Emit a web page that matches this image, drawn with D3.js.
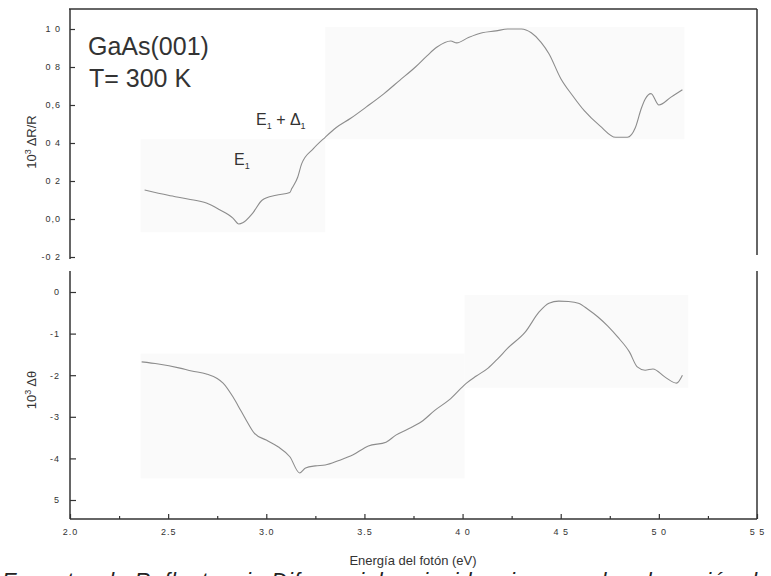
<!DOCTYPE html>
<html>
<head>
<meta charset="utf-8">
<script src="https://cdn.jsdelivr.net/npm/d3@7"></script>
<style>
  body { margin: 0; background: #fff; overflow: hidden; }
  svg { display: block; font-family: "Liberation Sans", Arial, sans-serif; }
  .tk text { font-size: 9px; fill: #333; letter-spacing: 1px; }
  .tk line { stroke: #333; stroke-width: 1.2; }
</style>
</head>
<body>
<svg id="chart" width="771" height="576"></svg>
<script>
// energia del foton (eV) y 10^3 dR/R
var eR = [2.38, 2.50, 2.60, 2.695, 2.76, 2.83, 2.86, 2.88, 2.93, 2.98, 3.05, 3.12, 3.13, 3.16, 3.18, 3.24, 3.30, 3.355, 3.43, 3.51,
          3.60, 3.68, 3.76, 3.82, 3.87, 3.94, 3.97, 4.03, 4.10, 4.17, 4.23, 4.30, 4.35, 4.40, 4.44, 4.50, 4.56, 4.62, 4.70, 4.78,
          4.84, 4.88, 4.91, 4.93, 4.96, 5.00, 5.06, 5.12];
var vR = [0.153, 0.125, 0.105, 0.084, 0.05, 0.005, -0.026, -0.02, 0.03, 0.10, 0.125, 0.14, 0.16, 0.22, 0.29, 0.37, 0.43, 0.48, 0.53, 0.59,
          0.66, 0.73, 0.80, 0.86, 0.905, 0.937, 0.927, 0.955, 0.98, 0.99, 1.0, 1.0, 0.98, 0.93, 0.87, 0.74, 0.65, 0.57, 0.49, 0.43,
          0.43, 0.48, 0.58, 0.63, 0.66, 0.60, 0.64, 0.68];

// 10^3 d(theta)
var eT = [2.365, 2.45, 2.56, 2.62, 2.695, 2.75, 2.78, 2.83, 2.87, 2.90, 2.94, 3.00, 3.06, 3.12, 3.17, 3.20, 3.25, 3.30, 3.37, 3.44,
          3.52, 3.61, 3.66, 3.72, 3.79, 3.86, 3.93, 4.02, 4.07, 4.13, 4.18, 4.23, 4.32, 4.39, 4.44, 4.49, 4.54, 4.59, 4.64, 4.69,
          4.74, 4.79, 4.85, 4.89, 4.93, 4.97, 5.03, 5.09, 5.12];
var vT = [-1.68, -1.73, -1.83, -1.90, -1.97, -2.08, -2.19, -2.52, -2.85, -3.10, -3.40, -3.56, -3.72, -3.96, -4.35, -4.23, -4.18, -4.16, -4.05, -3.92,
          -3.70, -3.61, -3.44, -3.30, -3.12, -2.84, -2.60, -2.19, -2.02, -1.83, -1.6, -1.35, -0.96, -0.48, -0.27, -0.22, -0.23, -0.27, -0.42, -0.60,
          -0.82, -1.08, -1.44, -1.80, -1.88, -1.85, -2.04, -2.19, -2.0];

var xTicks = [2.0, 2.5, 3.0, 3.5, 4.0, 4.5, 5.0, 5.5];
var xTickLabels = ["2.0", "2.5", "3.0", "3.5", "4 0", "4 5", "5 0", "5 5"];
var rTicks = [-0.2, 0.0, 0.2, 0.4, 0.6, 0.8, 1.0];
var rTickLabels = ["-0 2", "0,0", "0 2", "0 4", "0,6", "0 8", "1 0"];
var tTicks = [-5, -4, -3, -2, -1, 0];
var tTickLabels = ["5", "-4", "-3", "-2", "-1", "0"];

var svg = d3.select("#chart");

var x = d3.scaleLinear().domain([2.0, 5.5]).range([70, 757]);
var yR = d3.scaleLinear().domain([-0.2, 1.0]).range([257, 29]);
var yT = d3.scaleLinear().domain([-5, 0]).range([500, 292]);

// manchas grises del escaneo
var bg = svg.append("g").attr("fill", "#fafafa");
bg.append("rect").attr("x", x(2.36)).attr("y", yR(0.42)).attr("width", x(3.3) - x(2.36)).attr("height", yR(-0.07) - yR(0.42));
bg.append("rect").attr("x", x(3.3)).attr("y", yR(1.01)).attr("width", x(5.13) - x(3.3)).attr("height", yR(0.42) - yR(1.01));
bg.append("rect").attr("x", x(2.36)).attr("y", yT(-1.48)).attr("width", x(4.01) - x(2.36)).attr("height", yT(-4.48) - yT(-1.48));
bg.append("rect").attr("x", x(4.01)).attr("y", yT(-0.07)).attr("width", x(5.15) - x(4.01)).attr("height", yT(-2.3) - yT(-0.07));

// marco
var frame = svg.append("g").attr("stroke", "#333").attr("stroke-width", 1.5);
frame.append("line").attr("x1", 69).attr("x2", 757).attr("y1", 9).attr("y2", 9);
frame.append("line").attr("x1", 70).attr("x2", 70).attr("y1", 9).attr("y2", 259);
frame.append("line").attr("x1", 70).attr("x2", 70).attr("y1", 271).attr("y2", 519);
frame.append("line").attr("x1", 757).attr("x2", 757).attr("y1", 9).attr("y2", 255);
frame.append("line").attr("x1", 757).attr("x2", 757).attr("y1", 271).attr("y2", 519);
frame.append("line").attr("x1", 70).attr("x2", 757).attr("y1", 519).attr("y2", 519);

// ejes
var axR = svg.append("g").attr("class", "tk").attr("transform", "translate(70,0)")
  .call(d3.axisLeft(yR).tickValues(rTicks).tickSizeInner(-5).tickSizeOuter(0).tickPadding(9)
    .tickFormat(function (d, i) { return rTickLabels[i]; }));
axR.select(".domain").remove();

var axT = svg.append("g").attr("class", "tk").attr("transform", "translate(70,0)")
  .call(d3.axisLeft(yT).tickValues(tTicks).tickSizeInner(-6).tickSizeOuter(0).tickPadding(10)
    .tickFormat(function (d, i) { return tTickLabels[i]; }));
axT.select(".domain").remove();

var axX = svg.append("g").attr("class", "tk").attr("transform", "translate(0,519)")
  .call(d3.axisBottom(x).tickValues(xTicks).tickSizeInner(-5).tickSizeOuter(0).tickPadding(10)
    .tickFormat(function (d, i) { return xTickLabels[i]; }));
axX.select(".domain").remove();

var axMinor = svg.append("g").attr("class", "tk").attr("transform", "translate(0,519)")
  .call(d3.axisBottom(x).tickValues(xTicks.slice(0, -1).map(function (d) { return d + 0.25; }))
    .tickSizeInner(-3).tickSizeOuter(0).tickFormat(""));
axMinor.select(".domain").remove();

// curvas
var lineR = d3.line().x(function (d, i) { return x(eR[i]); }).y(function (d) { return yR(d); }).curve(d3.curveMonotoneX);
var lineT = d3.line().x(function (d, i) { return x(eT[i]); }).y(function (d) { return yT(d); }).curve(d3.curveMonotoneX);

svg.append("path").datum(vR).attr("d", lineR)
  .attr("fill", "none").attr("stroke", "#8c8c8c").attr("stroke-width", 1.1);
svg.append("path").datum(vT).attr("d", lineT)
  .attr("fill", "none").attr("stroke", "#8c8c8c").attr("stroke-width", 1.1);

// titulos de ejes
svg.append("text").attr("transform", "translate(36,142) rotate(-90)")
  .attr("text-anchor", "middle").attr("font-size", 13).attr("fill", "#333")
  .html('10<tspan font-size="9" dy="-5">3</tspan><tspan dy="5"> ΔR/R</tspan>');
svg.append("text").attr("transform", "translate(36,390) rotate(-90)")
  .attr("text-anchor", "middle").attr("font-size", 13).attr("fill", "#333")
  .html('10<tspan font-size="9" dy="-5">3</tspan><tspan dy="5"> Δθ</tspan>');

svg.append("text").attr("x", 413).attr("y", 565).attr("text-anchor", "middle")
  .attr("font-size", 13).attr("fill", "#333").text("Energía del fotón (eV)");

// anotaciones
svg.append("text").attr("x", 88).attr("y", 55).attr("font-size", 25).attr("fill", "#333").text("GaAs(001)");
svg.append("text").attr("x", 89).attr("y", 87).attr("font-size", 25).attr("fill", "#333").text("T= 300 K");

svg.append("text").attr("x", 256).attr("y", 125).attr("font-size", 16).attr("fill", "#333")
  .html('E<tspan font-size="9" dy="4">1</tspan><tspan dy="-4"> + Δ</tspan><tspan font-size="9" dy="4">1</tspan>');
svg.append("text").attr("x", 234).attr("y", 165).attr("font-size", 16).attr("fill", "#333")
  .html('E<tspan font-size="9" dy="4">1</tspan>');

// pie de figura (cortado por el borde, como en la figura original)
svg.append("text").attr("x", 2).attr("y", 588).attr("font-size", 22).attr("font-style", "italic")
  .attr("fill", "#222").attr("textLength", 768)
  .text("Espectro de Reflectancia Diferencial en incidencia normal en la región de");
</script>
</body>
</html>
